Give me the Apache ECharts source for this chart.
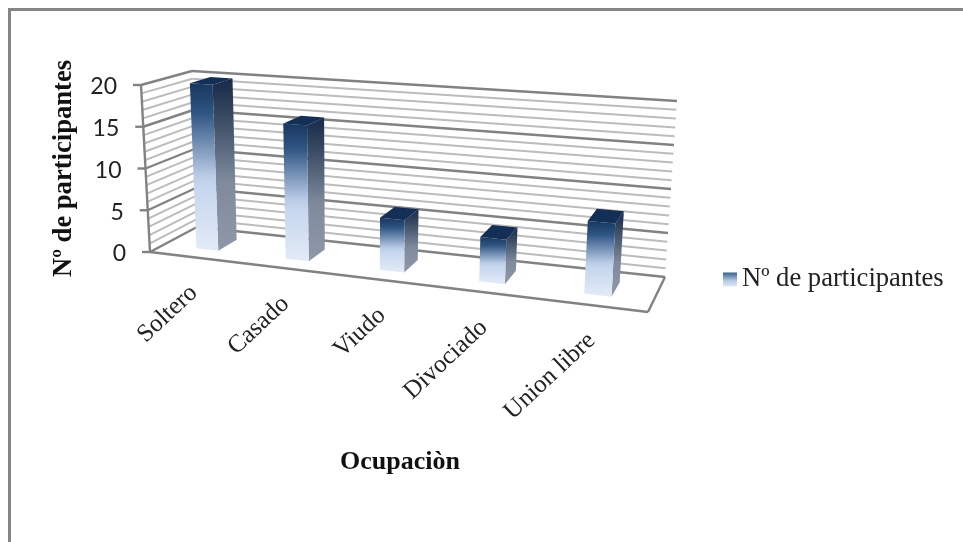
<!DOCTYPE html>
<html>
<head>
<meta charset="utf-8">
<style>html,body{margin:0;padding:0;background:#fff}#chart{width:963px;height:542px}</style>
<script src="https://cdn.jsdelivr.net/npm/echarts@6/dist/echarts.min.js"></script>
</head>
<body>
<div id="chart"></div>
<script>
// Occupation survey: number of participants per category
const categories = ['Soltero', 'Casado', 'Viudo', 'Divociado', 'Union libre'];
const participantes = [20, 16, 6, 5, 8];
const majorTicks = [0, 5, 10, 15, 20];
const minorTicks = [1, 2, 3, 4, 6, 7, 8, 9, 11, 12, 13, 14, 16, 17, 18, 19];
const seriesName = 'Nº de participantes';
const xTitle = 'Ocupaciòn';

const GRID = { left: 150, top: 85, width: 500, height: 167 };

// Corners of the 3D box on the page: f = front, b = back, L/R = side, 0/1 = floor/ceiling
const BOX = {
  fL0: [150, 252], fR0: [648, 312], bL0: [197, 227], bR0: [665, 277],
  fL1: [141, 85],  fR1: [659, 124], bL1: [192, 71],  bR1: [677, 101]
};
const PERSPECTIVE = 1.146;   // foreshortening along the category direction
const BAR_HALF = 0.025;      // half bar width, as a share of the plot width
const BAR_FRONT = 0.3, BAR_BACK = 0.72; // bar extent along the depth direction

const mix = (a, b, t) => [a[0] + (b[0] - a[0]) * t, a[1] + (b[1] - a[1]) * t];

// u: across (0..1), h: height (0..1), d: depth (0 front, 1 back)
function project(u, h, d) {
  const s = u / (u + PERSPECTIVE * (1 - u));
  const floor = mix(mix(BOX.fL0, BOX.fR0, s), mix(BOX.bL0, BOX.bR0, s), d);
  const ceil = mix(mix(BOX.fL1, BOX.fR1, s), mix(BOX.bL1, BOX.bR1, s), d);
  return mix(floor, ceil, h);
}
// Pixel position from the cartesian axes, turned into box coordinates
const toU = (px) => (px - GRID.left) / GRID.width;
const toH = (py) => (GRID.top + GRID.height - py) / GRID.height;

const poly = (points, fill, z2) => ({
  type: 'polygon', z2,
  shape: { points },
  style: { fill, stroke: null }
});
const seg = (a, b, stroke, lineWidth, z2) => ({
  type: 'line', z2,
  shape: { x1: a[0], y1: a[1], x2: b[0], y2: b[1] },
  style: { stroke, lineWidth }
});
const vGrad = (stops) => new echarts.graphic.LinearGradient(0, 0, 0, 1,
  stops.map(([offset, color]) => ({ offset, color })));

const FRONT_STOPS = [[0, '#17375e'], [0.18, '#2f5583'], [0.55, '#b9cbe6'], [0.62, '#c6d6ee'], [1, '#e3ebf7']];
const SIDE_STOPS = [[0, '#18294a'], [0.2, '#35465f'], [0.6, '#7f8a9d'], [1, '#8e98a8']];
const MAJOR = '#828282', MINOR = '#bcbcbc';

function renderGridLine(params, api) {
  const v = api.value(1);
  const isMajor = majorTicks.includes(v);
  const h = toH(api.coord([0, v])[1]);
  const stroke = isMajor ? MAJOR : MINOR, w = isMajor ? 2.4 : 2;
  const corner = project(0, h, 1);
  const children = [
    seg(project(0, h, 0), corner, stroke, w, 1),
    seg(corner, project(1, h, 1), stroke, w, 1)
  ];
  if (isMajor) {
    const p = project(0, h, 0);
    children.push(seg([p[0] - 8, p[1]], p, MAJOR, 2.4, 2));
    children.push({
      type: 'text', z2: 3, x: p[0] - 24, y: p[1] + 2,
      style: { text: String(v), align: 'right', verticalAlign: 'middle', fill: '#222', font: '23px Lato, sans-serif' }
    });
  }
  if (v === 0) {
    children.push(seg(project(0, 0, 0), project(1, 0, 0), MAJOR, 2.4, 2));
    children.push(seg(project(1, 0, 0), project(1, 0, 1), MAJOR, 2.4, 2));
    children.push(seg(project(0, 0, 0), project(0, 1, 0), MAJOR, 2.4, 2));
  }
  return { type: 'group', children };
}

function renderBar(params, api) {
  const base = api.coord([api.value(0), 0]);
  const top = api.coord([api.value(0), api.value(1)]);
  const u = toU(base[0]), h = toH(top[1]);
  const u0 = u - BAR_HALF, u1 = u + BAR_HALF;
  const p = (a, b, c) => project(a, b, c);
  return {
    type: 'group',
    children: [
      poly([p(u1, 0, BAR_FRONT), p(u1, 0, BAR_BACK), p(u1, h, BAR_BACK), p(u1, h, BAR_FRONT)], vGrad(SIDE_STOPS), 1),
      poly([p(u0, 0, BAR_FRONT), p(u1, 0, BAR_FRONT), p(u1, h, BAR_FRONT), p(u0, h, BAR_FRONT)], vGrad(FRONT_STOPS), 2),
      poly([p(u0, h, BAR_FRONT), p(u1, h, BAR_FRONT), p(u1, h, BAR_BACK), p(u0, h, BAR_BACK)], '#142f55', 3)
    ]
  };
}

function renderCategoryLabel(params, api) {
  const c = api.coord([api.value(0), 0]);
  const p = project(toU(c[0]), 0, 0);
  return {
    type: 'text', x: p[0] + 0, y: p[1] + 32, rotation: 43 * Math.PI / 180,
    style: { text: categories[params.dataIndex], align: 'right', verticalAlign: 'middle', fill: '#222', font: '25px "Liberation Serif", serif' }
  };
}

const chart = echarts.init(document.getElementById('chart'), null, { renderer: 'canvas' });
chart.setOption({
  animation: false,
  backgroundColor: '#ffffff',
  grid: GRID,
  legend: {
    left: 723, top: 266, padding: 0, itemWidth: 14, itemHeight: 14, itemGap: 6, selectedMode: false,
    data: [{ name: seriesName, icon: 'rect', itemStyle: { color: vGrad([[0, '#3a5f8c'], [0.6, '#b9cbe6'], [1, '#dfe8f5']]) } }],
    textStyle: { fontFamily: '"Liberation Serif", serif', fontSize: 26.6, color: '#222', padding: 0 }
  },
  xAxis: {
    type: 'category', data: categories,
    name: xTitle, nameLocation: 'middle', nameGap: 197,
    nameTextStyle: { fontFamily: '"Liberation Serif", serif', fontSize: 26, fontWeight: 'bold', color: '#111' },
    axisLine: { show: false }, axisTick: { show: false }, axisLabel: { show: false }
  },
  yAxis: {
    type: 'value', min: 0, max: 20, interval: 5,
    name: seriesName, nameLocation: 'middle', nameGap: 72, nameRotate: 90,
    nameTextStyle: { fontFamily: '"Liberation Serif", serif', fontSize: 26.6, fontWeight: 'bold', color: '#111' },
    axisLine: { show: false }, axisTick: { show: false }, axisLabel: { show: false }, splitLine: { show: false }
  },
  graphic: [
    { type: 'line', silent: true, shape: { x1: 9.5, y1: 9.5, x2: 963, y2: 9.5 }, style: { stroke: '#858585', lineWidth: 3 } },
    { type: 'line', silent: true, shape: { x1: 9.5, y1: 8, x2: 9.5, y2: 542 }, style: { stroke: '#858585', lineWidth: 3 } }
  ],
  series: [
    {
      name: 'rejilla', type: 'custom', silent: true, z: 1,
      renderItem: renderGridLine,
      encode: { x: 0, y: 1 },
      data: minorTicks.concat(majorTicks).map((v) => [0, v])
    },
    {
      name: 'etiquetas', type: 'custom', silent: true, z: 2,
      renderItem: renderCategoryLabel,
      encode: { x: 0, y: 1 },
      data: categories.map((c, i) => [i, 0])
    },
    {
      name: seriesName, type: 'custom', silent: true, z: 3,
      renderItem: renderBar,
      encode: { x: 0, y: 1 },
      data: participantes.map((v, i) => [i, v])
    }
  ]
});
</script>
</body>
</html>
